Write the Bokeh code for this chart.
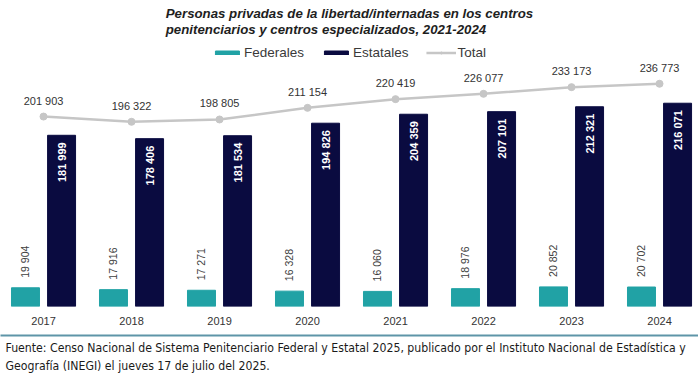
from math import pi
from bokeh.plotting import figure
from bokeh.models import (ColumnDataSource, Range1d, FixedTicker, LinearAxis,
                          Legend, LegendItem, Title)
from bokeh.transform import dodge
from bokeh.core.properties import value
from bokeh.embed import file_html
from bokeh.resources import INLINE

years = ["2017", "2018", "2019", "2020", "2021", "2022", "2023", "2024"]
federales = [19904, 17916, 17271, 16328, 16060, 18976, 20852, 20702]
estatales = [181999, 178406, 181534, 194826, 204359, 207101, 212321, 216071]
total = [201903, 196322, 198805, 211154, 220419, 226077, 233173, 236773]

def fmt(v):
    return f"{v:,}".replace(",", " ")

idx = list(range(len(years)))
src = ColumnDataSource(dict(
    x=idx, fed=federales, est=estatales, tot=total,
    fed_lbl=[fmt(v) for v in federales],
    est_lbl=[fmt(v) for v in estatales],
    tot_lbl=[fmt(v) for v in total],
))

FONT = "Liberation Sans"
NARROW = "DejaVu Sans Condensed, Liberation Sans Narrow, sans-serif"
TEAL = "#21a2a5"
NAVY = "#0a0b40"
GREY = "#c6c6c6"

p = figure(width=698, height=376, output_backend="svg", toolbar_location=None,
           x_range=Range1d(-0.489, 7.443), y_range=Range1d(0, 287000),
           y_axis_location=None, min_border=0, min_border_top=36,
           outline_line_color=None,
           title="Personas privadas de la libertad/internadas en los centros\npenitenciarios y centros especializados, 2021-2024")
p.title.align = "center"
p.title.text_font = FONT
p.title.text_font_size = "13.25px"
p.title.text_font_style = "bold italic"
p.title.text_color = "#1e1e1e"
p.title.text_line_height = 1.05
p.title.standoff = 0
p.xgrid.grid_line_color = None
p.ygrid.grid_line_color = None

r_fed = p.vbar(x=dodge("x", -0.205, range=p.x_range), top="fed", width=0.318,
               source=src, fill_color=TEAL, line_color=TEAL)
r_est = p.vbar(x=dodge("x", 0.205, range=p.x_range), top="est", width=0.318,
               source=src, fill_color=NAVY, line_color=NAVY)
r_line = p.line(x="x", y="tot", source=src, line_color=GREY, line_width=2.5)
r_pts = p.scatter(x="x", y="tot", source=src, size=7, fill_color=GREY, line_color=GREY)

p.text(x=dodge("x", -0.205, range=p.x_range), y="fed", text="fed_lbl", source=src,
       angle=pi / 2, text_align="left", text_baseline="middle", y_offset=-10,
       text_font=value(FONT), text_font_size="10.5px", text_color="#404040")
p.text(x=dodge("x", 0.205, range=p.x_range), y="est", text="est_lbl", source=src,
       angle=pi / 2, text_align="right", text_baseline="middle", y_offset=7,
       text_font=value(FONT), text_font_size="11px", text_font_style="bold",
       text_color="white")
p.text(x="x", y="tot", text="tot_lbl", source=src, text_align="center",
       text_baseline="bottom", y_offset=-10,
       text_font=value(FONT), text_font_size="11px", text_color="#333333")

xa = p.xaxis[0]
xa.ticker = FixedTicker(ticks=idx)
xa.major_label_overrides = {i: y for i, y in zip(idx, years)}
xa.axis_line_color = None
xa.major_tick_line_color = None
xa.minor_tick_line_color = None
xa.major_label_text_font = FONT
xa.major_label_text_font_size = "11px"
xa.major_label_text_color = "#333333"
xa.major_label_standoff = 4
# small spacer below the year labels
xa.axis_label = " "
xa.axis_label_text_font_size = "1px"
xa.axis_label_standoff = 4

rule = LinearAxis(ticker=FixedTicker(ticks=[]), axis_line_color="#5e95a8",
                  axis_line_width=2, major_tick_line_color=None,
                  minor_tick_line_color=None, major_label_text_font_size="0px")
p.add_layout(rule, "below")

legend = Legend(items=[
    LegendItem(label="Federales", renderers=[r_fed]),
    LegendItem(label="Estatales", renderers=[r_est]),
    LegendItem(label="Total", renderers=[r_line, r_pts]),
], orientation="horizontal", location="top_center", border_line_color=None,
   background_fill_alpha=0, label_text_font=FONT, label_text_font_size="13.5px",
   label_text_color="#3a3a3a", glyph_width=30, glyph_height=5, label_standoff=2,
   spacing=17, padding=0, margin=9)
p.add_layout(legend)

foot = Title(text="Fuente: Censo Nacional de Sistema Penitenciario Federal y Estatal 2025, publicado por el Instituto Nacional de Estadística y\nGeografía (INEGI) el jueves 17 de julio del 2025.",
             align="left", offset=5, standoff=7, text_font=NARROW,
             text_font_size="12.2px", text_font_style="normal", text_color="#1a1a1a",
             text_line_height=1.3)
p.add_layout(foot, "below")

open("out.html", "w").write(file_html(p, INLINE))
